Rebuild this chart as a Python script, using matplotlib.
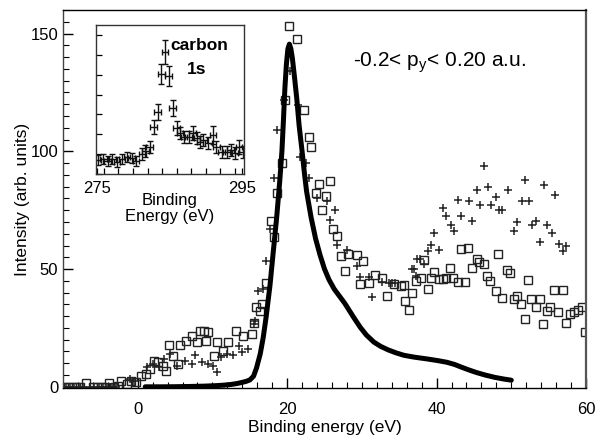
import matplotlib
matplotlib.use("Agg")
import matplotlib.pyplot as plt
from matplotlib.ticker import MultipleLocator

plt.rcParams['font.family'] = ['Liberation Sans', 'DejaVu Sans']

# ---- theory curve ----
theory_x = [1, 3, 5, 7, 9, 10.5, 11.5, 12.5, 13.3, 14, 14.5, 15.0, 15.5, 15.9, 16.4,
            16.8, 17.2, 17.7, 18.1, 18.6, 19.0, 19.3, 19.5, 19.7, 19.9, 20.1, 20.3,
            20.5, 20.7, 21.0, 21.3, 21.6, 22.0, 22.3, 22.6, 23.2, 23.8, 24.4, 25.0,
            25.6, 26.3, 27.0, 27.7, 28.3, 29.0, 29.8, 30.6, 31.6, 32.5, 33.5, 34.5,
            35.6, 37.0, 38.8, 40.2, 41.4, 42.4, 43.2, 44.2, 45.3, 46.5, 47.8, 49.0, 50.0]
theory_y = [0, 0, 0.05, 0.15, 0.3, 0.5, 0.7, 1.0, 1.4, 1.9, 2.3, 2.9, 4.5, 8, 14,
            21, 30, 43, 56, 72, 87, 100, 113, 127, 137, 143.5, 145.5,
            143.5, 139.5, 131, 122, 111, 100, 91, 83, 72, 63, 56, 50,
            45.5, 41.5, 38.5, 35.5, 32.5, 29, 25.2, 22, 19, 17.2, 15.7, 14.5,
            13.4, 12.6, 11.8, 11.1, 10.4, 9.5, 8.5, 7.3, 6.1, 5.0, 4.0, 3.3, 2.8]

# ---- squares series ----
sq_x = [-9.9, -9.3, -8.8, -8.2, -7.7, -6.9, -6.0, -5.5, -4.9, -4.4, -3.8, -3.2, -2.6,
        -2.2, -1.5, -0.85, -0.2, 0.5, 1.1, 1.6, 2.2, 2.7, 3.4, 3.85, 4.2, 4.7, 5.4, 5.6,
        6.5, 7.2, 7.9, 8.3, 8.9, 9.2, 9.4, 10.2, 10.6, 11.4, 12.1, 13.2, 14.1, 15.3,
        15.5, 15.8, 16.4, 16.7, 17.2, 17.8, 18.2, 18.6, 19.3, 19.7, 20.3, 21.3, 22.2,
        22.9, 23.2, 23.8, 24.2, 24.7, 25.2, 25.7, 26.2, 26.7, 27.2, 27.8, 28.2, 29.3,
        29.8, 30.2, 30.9, 31.8, 32.7, 33.3, 34.3, 35.2, 35.7, 35.8, 36.3, 36.7, 37.3,
        37.9, 38.3, 38.8, 39.2, 39.7, 40.3, 40.8, 41.3, 41.8, 42.2, 42.8, 43.3, 43.8,
        44.2, 44.8, 45.4, 45.7, 46.3, 46.8, 47.2, 47.9, 48.2, 48.8, 49.4, 49.8, 50.4,
        50.7, 51.3, 51.8, 52.3, 52.7, 53.3, 53.9, 54.3, 54.8, 55.2, 55.7, 56.3, 56.9,
        57.3, 57.9, 58.4, 58.9, 59.4, 59.8]
sq_y = [0, 0, 0, 0, 0, 1.8, 0, 0, 0, 0, 1.8, 0, 0.5,
        2.3, 1.3, 2.3, 2, 4.8, 5.5, 7.6, 11.1, 10.4, 9, 6.9, 17.9, 13.2, 9.7, 17.9,
        19.6, 21.7, 18.9, 23.8, 23.8, 19.6, 23.1, 13.2, 18.9, 15.3, 18.9, 23.8, 21.7, 22.4,
        27.3, 33.7, 32, 35, 44.2, 70.3, 63.7, 82.5, 95, 121.7, 153, 147.7, 117.7,
        106.2, 102, 82.5, 86.3, 75.2, 81.1, 87.6, 67, 63.9, 55.5, 49.1, 56.2, 55.8,
        43.5, 53.4, 44.2, 47.3, 46.3, 38.6, 43.5, 42.8, 43.1, 36.5, 32.5, 39.7, 44.9,
        46.3, 53.8, 41.4, 46.3, 48.7, 45.6, 45.9, 46.3, 50.6, 46.3, 44.5, 58.6, 44.7,
        59, 50.6, 54.1, 52.9, 52, 47, 44.9, 40.7, 56.2, 37.5, 49.6, 48.5, 37.2,
        38.6, 35.1, 29, 45.3, 37.2, 33.7, 37.2, 26.6, 32.2, 33.7, 41.1, 31.8, 41.1,
        27, 30.8, 31.8, 32.7, 33.7, 23.4]

# ---- crosses series ----
cr_x = [-9.6, -9.0, -8.5, -7.9, -7.3, -6.4, -5.8, -5.2, -4.6, -4.1, -3.5, -2.9,
        -1.07, -0.5, 1.25, 2, 2.8, 3.5, 4.3, 5.2, 6.3, 7.2, 7.65, 8.55, 9.4, 10.1, 10.6,
        11.2, 11.95, 12.8, 13.5, 13.9, 14.8, 15.5, 15.7, 16.1, 16.8, 17.2, 17.7, 18.2,
        18.7, 19.6, 20.4, 21.5, 21.7, 22.5, 22.9, 24, 25.3, 25.7, 26.4, 26.7, 28, 29.4,
        29.8, 30.9, 31.3, 32.7, 33.6, 34.0, 34.5, 36.7, 37.0, 37.2, 37.4, 37.8, 38.3,
        38.8, 39.3, 39.7, 40.3, 40.9, 41.3, 41.9, 42.3, 42.9, 43.3, 44.3, 44.8, 45.4,
        45.8, 46.4, 46.9, 47.3, 47.9, 48.3, 48.7, 49.5, 50.4, 50.8, 51.4, 51.8, 52.4,
        52.8, 53.3, 53.9, 54.4, 54.8, 55.4, 55.8, 56.4, 56.9, 57.3]
cr_y = [0, 0, 0, 0, 0, 0, 0, 0, 0, 0, 0, 0,
        3.4, 2.5, 8.3, 9.7, 8.3, 11.8, 13.9, 9, 11.1, 9.7, 13.5, 10.4, 9.7, 9, 6.2,
        12.5, 13.9, 13.5, 17.5, 14.6, 16, 26.6, 28, 40.7, 41.4, 53.4, 66.8, 88.6,
        109, 121.7, 134.3, 119.6, 97.7, 95, 88.6, 80.1, 78.7, 71, 75.2, 60.4, 58.3, 51.2,
        46.5, 46.5, 38.2, 44.3, 44.2, 44.2, 44.2, 50.1, 49.9, 47, 54.1, 54.4, 52,
        57.6, 60.4, 65.1, 58, 75.9, 72.4, 68.9, 66.3, 79.4, 72.7, 79.1, 70.3, 83.7,
        77.3, 93.8, 84.8, 77.3, 80.8, 74.9, 75.2, 83.4, 66, 69.8, 79.1, 87.9, 78.7,
        68.9, 70.6, 61.4, 85.8, 68.9, 65.4, 81.5, 60.8, 57.6, 59.7]

# ---- inset: carbon 1s ----
c1s_x = [275.2, 275.9, 276.5, 277.15, 277.8, 278.5, 279.2, 279.8, 280.4, 281.3, 281.7,
         282.3, 282.85, 283.4, 283.9, 284.4, 284.9, 285.45, 286.0, 286.5, 287.05, 287.65,
         288.2, 288.8, 289.25, 289.7, 290.4, 291.0, 291.5, 292.2, 292.9, 293.45, 294.05,
         294.6, 295.1]
c1s_y = [14.1, 14.8, 13.4, 14.8, 11.7, 15.4, 17.5, 15.8, 13.1, 20.1, 23.5, 27.5, 47.7,
         62.8, 100.7, 123.2, 98.7, 66.1, 46, 41.6, 37.6, 37.6, 40.9, 35.9, 32.6, 34.2,
         30.9, 39.3, 27.5, 22.5, 22.5, 24.2, 20.8, 27.5, 22.5]
c1s_err = [5, 5, 5, 5, 5, 5, 5, 5, 5, 6, 6, 6, 7, 8, 10, 12, 10, 8, 7, 6, 6, 6, 7, 6,
           6, 6, 6, 9, 6, 6, 6, 6, 6, 7, 6]

fig = plt.figure(figsize=(6.0, 4.42), dpi=100)
ax = fig.add_axes([0.105, 0.1222, 0.8717, 0.8552])

ax.plot(theory_x, theory_y, color='black', lw=3.6, solid_capstyle='round',
        solid_joinstyle='round', zorder=3)
ax.plot(sq_x, sq_y, ls='none', marker='s', ms=5.8, mfc='none', mec='#222222', mew=1.0, zorder=2)
ax.plot(cr_x, cr_y, ls='none', marker='+', ms=6.2, color='#222222', mew=1.1, zorder=2)

ax.set_xlim(-10, 60)
ax.set_ylim(-0.5, 160)
ax.xaxis.set_major_locator(MultipleLocator(20))
ax.xaxis.set_minor_locator(MultipleLocator(2))
ax.yaxis.set_major_locator(MultipleLocator(50))
ax.yaxis.set_minor_locator(MultipleLocator(5))
ax.tick_params(which='both', direction='in', top=False, right=False, labelsize=12)
ax.tick_params(which='major', length=7, width=1)
ax.tick_params(which='minor', length=4, width=0.8)
ax.tick_params(axis='x', pad=10)
ax.set_xlabel('Binding energy (eV)', fontsize=12.5, labelpad=2)
ax.set_ylabel('Intensity (arb. units)', fontsize=12.5, labelpad=0)
for s in ['left', 'top', 'bottom']:
    ax.spines[s].set_linewidth(1.0)
ax.spines['left'].set_color('#444444')
ax.spines['right'].set_color('#555555')
ax.spines['right'].set_linewidth(1.6)

ax.text(0.555, 0.862, r'-0.2< p$_\mathregular{y}$< 0.20 a.u.', transform=ax.transAxes,
        fontsize=15, ha='left', va='center')

# inset
ins = fig.add_axes([0.16, 0.6063, 0.2467, 0.3371])
ins.errorbar(c1s_x, c1s_y, yerr=c1s_err, xerr=0.45, fmt='none', ecolor='#111111',
             elinewidth=1.0, capsize=2.2, capthick=1.0)
ins.set_xlim(274.9, 295.3)
ins.set_ylim(0, 150)
ins.set_xticks([275, 295])
ins.xaxis.set_minor_locator(MultipleLocator(2))
ins.yaxis.set_major_locator(MultipleLocator(20))
ins.set_yticklabels([])
ins.tick_params(which='both', direction='in', labelsize=12, top=False, right=False)
ins.tick_params(which='major', length=4, width=0.9)
ins.tick_params(which='minor', length=4, width=0.9)
ins.tick_params(axis='x', pad=5)
ins.set_xlabel('Binding\nEnergy (eV)', fontsize=12, labelpad=-2, linespacing=1.1)
ins.text(0.5, 0.86, 'carbon', transform=ins.transAxes, fontsize=12.5, fontweight='bold',
         ha='left', va='center')
ins.text(0.68, 0.70, '1s', transform=ins.transAxes, fontsize=12.5, fontweight='bold',
         ha='center', va='center')
for s in ins.spines.values():
    s.set_linewidth(1.0)
    s.set_color('#333333')

fig.savefig('out.png', dpi=100)
